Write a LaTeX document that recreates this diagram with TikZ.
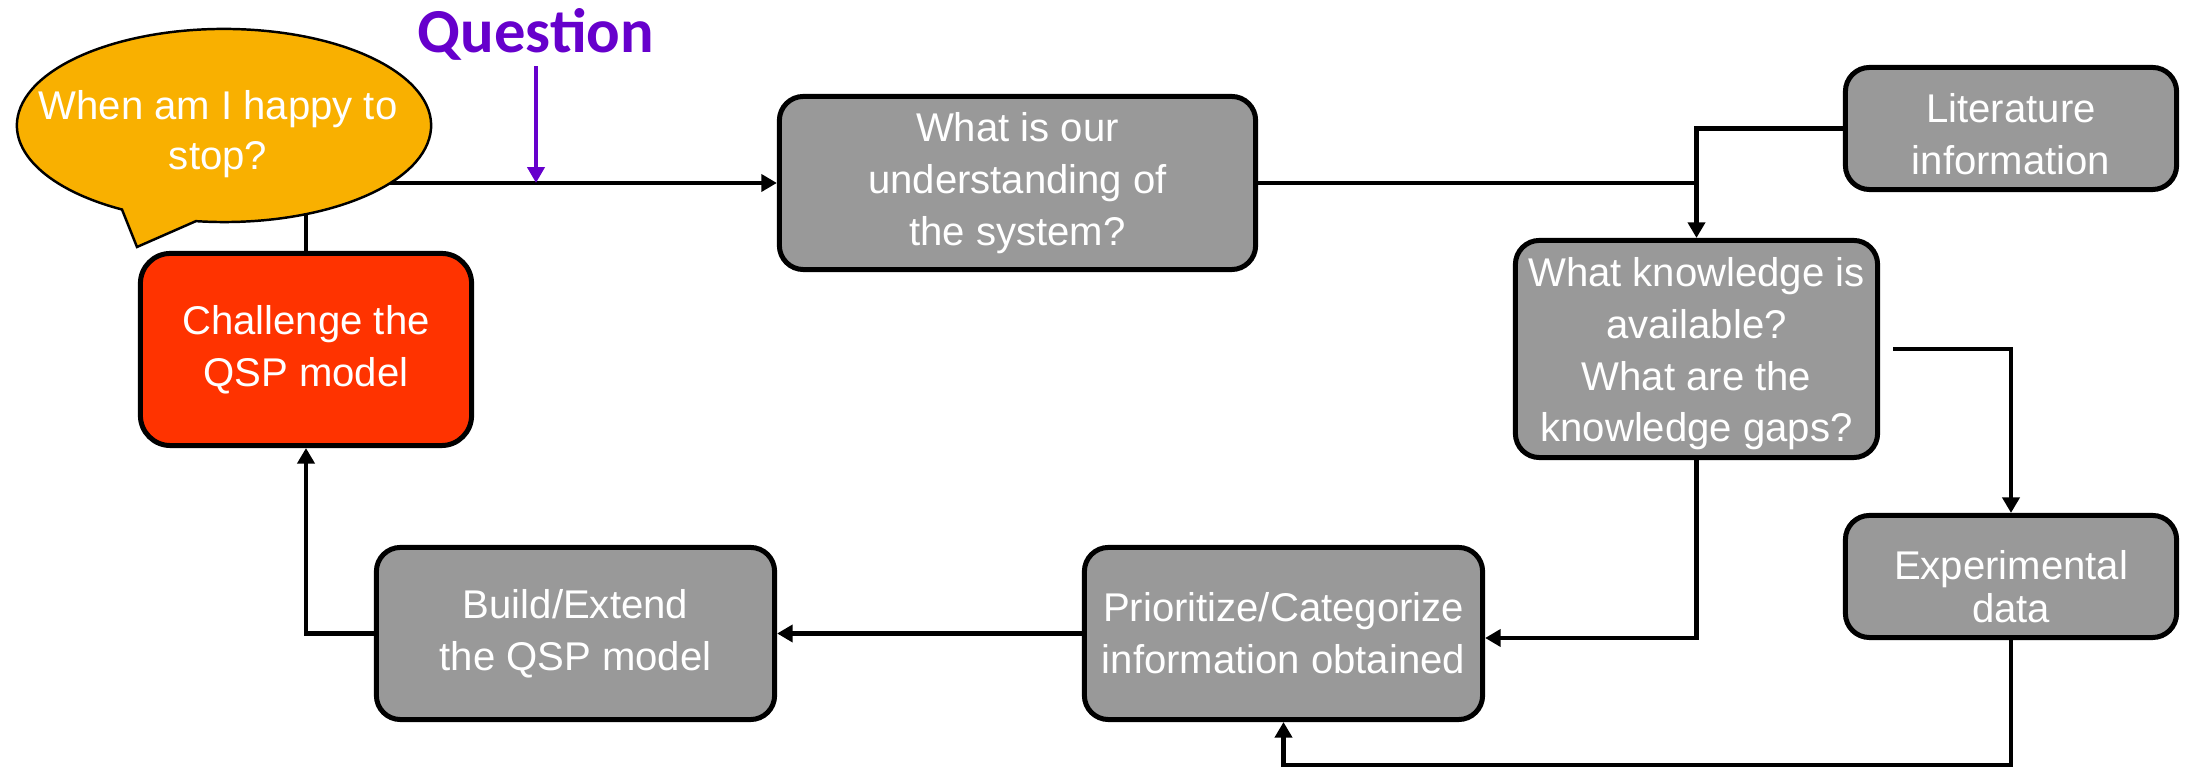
\documentclass[tikz,border=0pt]{standalone}
\usepackage{fontspec}
\setmainfont{Liberation Sans}
\newfontfamily\headfont{Carlito}
\usetikzlibrary{arrows.meta,calc}
\definecolor{boxgray}{RGB}{153,153,153}
\definecolor{alertred}{RGB}{255,51,0}
\definecolor{bubbleorange}{RGB}{249,176,0}
\definecolor{qpurple}{RGB}{102,0,204}

\begin{document}
\begin{tikzpicture}[x=0.01cm,y=0.01cm,
  stepbox/.style={draw=black, line width=1.42pt, rounded corners=0.24cm,
    fill=boxgray, text=white, align=center, inner sep=0pt,
    font=\fontsize{11.4pt}{14.7pt}\selectfont},
  link/.style={line width=1.35pt},
  conn/.style={link, -{Triangle[length=4.4pt,width=4.8pt]}},
  qarrow/.style={draw=qpurple, line width=1.25pt, -{Triangle[length=4.5pt,width=4.8pt]}},
]
\useasboundingbox (0,0) rectangle (2187,-771);

% process steps
\node[stepbox, minimum width=4.76cm, minimum height=1.73cm] (understand) at (1017.5,-183)
  {What is our\\understanding of\\the system?};
\node[stepbox, minimum width=3.31cm, minimum height=1.22cm] (lit) at (2011,-128.5)
  {\rule{0pt}{11.6pt}Literature\\information};
\node[stepbox, minimum width=3.62cm, minimum height=2.17cm] (know) at (1696.5,-349)
  {\rule{0pt}{11.1pt}What knowledge is\\available?\\What are the\\knowledge gaps?};
\node[stepbox, minimum width=3.31cm, minimum height=1.22cm,
      font=\fontsize{11.4pt}{12.2pt}\selectfont] (exp) at (2011,-576.5)
  {\rule{0pt}{14pt}Experimental\\data};
\node[stepbox, minimum width=3.98cm, minimum height=1.72cm] (prio) at (1283.5,-633.5)
  {Prioritize/Categorize\\information obtained};
\node[stepbox, minimum width=3.98cm, minimum height=1.72cm] (build) at (575.5,-633.5)
  {Build/Extend\\the QSP model};
\node[stepbox, fill=alertred, rounded corners=0.3cm, minimum width=3.31cm, minimum height=1.92cm]
  (challenge) at (306,-349.5) {Challenge the\\QSP model};

% loop back into the first step, partly hidden by the speech bubble
\draw[conn] (challenge.north) |- (understand.west);

% speech bubble with its tail
\filldraw[fill=bubbleorange, draw=black, line width=0.7pt]
  (224,-125.5) ++(-97.8:2.07cm and 0.965cm)
  arc[start angle=-97.8, end angle=240.5, x radius=2.07cm, y radius=0.965cm]
  -- (137,-247) -- cycle;
\node[text=white, align=center, inner sep=0pt,
      font=\fontsize{11.4pt}{14.2pt}\selectfont] (stoptext) at (218,-134)
  {When am I happy to\\stop?};

% question marker
\node[text=qpurple, anchor=base, inner sep=0pt,
      font=\headfont\bfseries\fontsize{17.8pt}{20pt}\selectfont] (question) at (536,-53) {Question};
\coordinate (qhit) at (question.south |- understand.west);
\draw[qarrow, shorten <=1.3pt] (question.south) -- (qhit);

% connectors
\draw[link] (understand.east) -- (understand.east -| know.north);
\draw[conn] (lit.west) -| (know.north);
\draw[conn, shorten <=3.7pt] (know.east) -| (exp.north);
\draw[conn] (know.south) |- ($(prio.east)+(0,-4.5)$);
\coordinate (loopcorner) at (2011,-765);
\draw[conn] (exp.south) -- (loopcorner) -| (prio.south);
\draw[conn] (prio.west) -- (build.east);
\draw[conn] (build.west) -| (challenge.south);
\end{tikzpicture}
\end{document}
